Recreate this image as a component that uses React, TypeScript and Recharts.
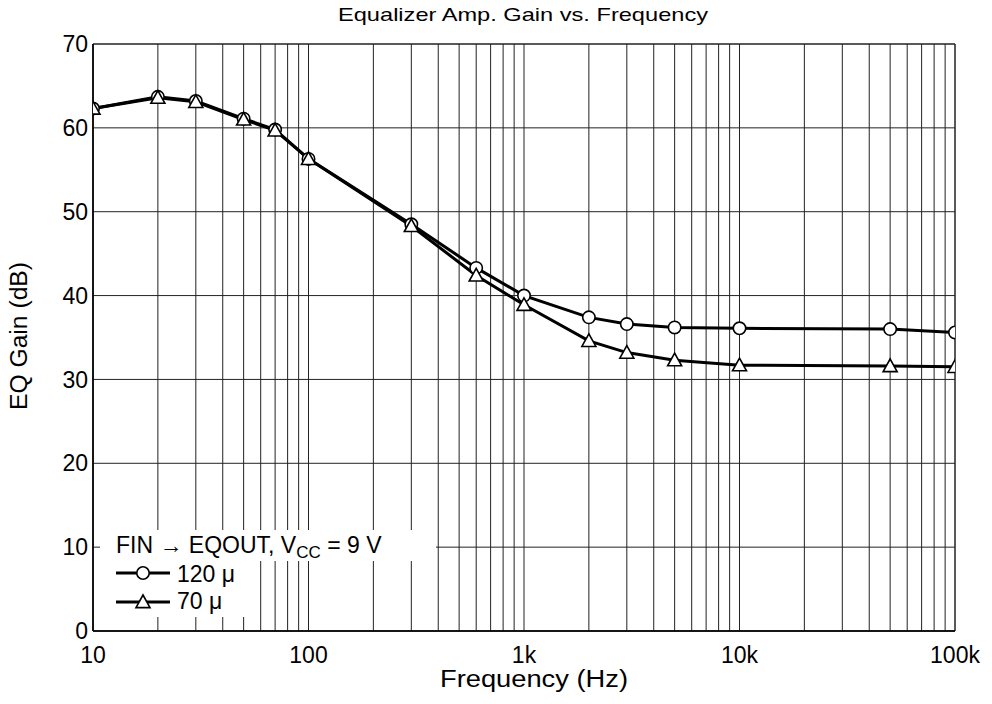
import React from 'react';
import { LineChart, Line, XAxis, YAxis, ReferenceLine } from 'recharts';

const frequencies = [10, 20, 30, 50, 70, 100, 300, 600, 1000, 2000, 3000, 5000, 10000, 50000, 100000];
const gain120 = [62.3, 63.7, 63.2, 61.1, 59.8, 56.3, 48.5, 43.3, 40.0, 37.4, 36.6, 36.2, 36.1, 36.0, 35.6];
const gain70 = [62.3, 63.6, 63.1, 61.0, 59.7, 56.3, 48.3, 42.4, 38.9, 34.6, 33.2, 32.3, 31.7, 31.6, 31.5];

const xTicks = [10, 100, 1000, 10000, 100000];
const xTickLabels = ['10', '100', '1k', '10k', '100k'];
const yTicks = [0, 10, 20, 30, 40, 50, 60, 70];
const xGrid = [
  10, 20, 30, 40, 50, 60, 70, 80, 90,
  100, 200, 300, 400, 500, 600, 700, 800, 900,
  1000, 2000, 3000, 4000, 5000, 6000, 7000, 8000, 9000,
  10000, 20000, 30000, 40000, 50000, 60000, 70000, 80000, 90000, 100000,
];
const yGrid = [0, 10, 20, 30, 40, 50, 60, 70];

const data = frequencies.map((f, i) => ({ f, a: gain120[i], b: gain70[i] }));

const FONT = '"Liberation Sans", Arial, Helvetica, sans-serif';

const CircleDot = (props: any) => {
  const { cx, cy } = props;
  if (cx == null || cy == null) return null;
  return <circle cx={cx} cy={cy} r={6.2} fill="#fff" stroke="#000" strokeWidth={1.6} />;
};

const triPoints = (cx: number, cy: number, s: number) =>
  `${cx},${cy - s} ${cx - s},${cy + s * 0.8} ${cx + s},${cy + s * 0.8}`;

const TriDot = (props: any) => {
  const { cx, cy } = props;
  if (cx == null || cy == null) return null;
  return <polygon points={triPoints(cx, cy, 7)} fill="#fff" stroke="#000" strokeWidth={1.6} />;
};

const Overlay = () => (
  <svg
    width={992}
    height={704}
    style={{ position: 'absolute', left: 0, top: 0, pointerEvents: 'none' }}
    fontFamily={FONT}
  >
    <text x={523} y={21} textAnchor="middle" fontSize={19} textLength={370} lengthAdjust="spacingAndGlyphs">
      Equalizer Amp. Gain vs. Frequency
    </text>
    <text x={534} y={687} textAnchor="middle" fontSize={23} textLength={188} lengthAdjust="spacingAndGlyphs">
      Frequency  (Hz)
    </text>
    <text
      x={27}
      y={336}
      textAnchor="middle"
      fontSize={23}
      textLength={148}
      lengthAdjust="spacingAndGlyphs"
      transform="rotate(-90 27 336)"
    >
      EQ Gain  (dB)
    </text>
    <g fill="#000" fontSize={23}>
      <rect x={100} y={530} width={336} height={31} fill="#fff" />
      <rect x={100} y={561} width={150} height={56} fill="#fff" />
      <text x={116} y={553}>
        FIN {'\u2192'} EQOUT, V<tspan fontSize={17} dy={5}>CC</tspan>
        <tspan dy={-5}> = 9 V</tspan>
      </text>
      <line x1={116} y1={573} x2={170} y2={573} stroke="#000" strokeWidth={3} />
      <circle cx={143} cy={573} r={6.2} fill="#fff" stroke="#000" strokeWidth={1.6} />
      <text x={177} y={582}>120 {'\u03bc'}</text>
      <line x1={116} y1={602} x2={170} y2={602} stroke="#000" strokeWidth={3} />
      <polygon points={triPoints(143, 602, 7)} fill="#fff" stroke="#000" strokeWidth={1.6} />
      <text x={177} y={609}>70 {'\u03bc'}</text>
    </g>
  </svg>
);

export default function App() {
  return (
    <div style={{ position: 'absolute', left: 0, top: 0, width: 992, height: 704, background: '#fff' }}>
      <LineChart
        width={992}
        height={704}
        data={data}
        margin={{ top: 44, right: 37, bottom: 43, left: 33 }}
      >
        <XAxis
          dataKey="f"
          type="number"
          scale="log"
          domain={[10, 100000]}
          ticks={xTicks}
          tickFormatter={(v: number) => xTickLabels[xTicks.indexOf(v)] ?? String(v)}
          tickLine={false}
          tickSize={0}
          tickMargin={16}
          height={30}
          axisLine={{ stroke: '#000', strokeWidth: 1.5 }}
          tick={{ fill: '#000', fontSize: 23, fontFamily: FONT }}
          allowDataOverflow
        />
        <YAxis
          type="number"
          domain={[0, 70]}
          ticks={yTicks}
          tickLine={false}
          tickSize={0}
          tickMargin={5}
          width={60}
          axisLine={{ stroke: '#000', strokeWidth: 1.5 }}
          tick={{ fill: '#000', fontSize: 23, fontFamily: FONT }}
          allowDataOverflow
        />
        {xGrid.map((v) => (
          <ReferenceLine key={'x' + v} x={v} stroke="#222" strokeWidth={v === 10 || v === 100000 ? 1.5 : 1} />
        ))}
        {yGrid.map((v) => (
          <ReferenceLine key={'y' + v} y={v} stroke="#222" strokeWidth={v === 0 || v === 70 ? 1.5 : 1} />
        ))}
        <Line
          dataKey="a"
          stroke="#000"
          strokeWidth={3}
          dot={<CircleDot />}
          activeDot={false}
          isAnimationActive={false}
        />
        <Line
          dataKey="b"
          stroke="#000"
          strokeWidth={3}
          dot={<TriDot />}
          activeDot={false}
          isAnimationActive={false}
        />
      </LineChart>
      <Overlay />
    </div>
  );
}
